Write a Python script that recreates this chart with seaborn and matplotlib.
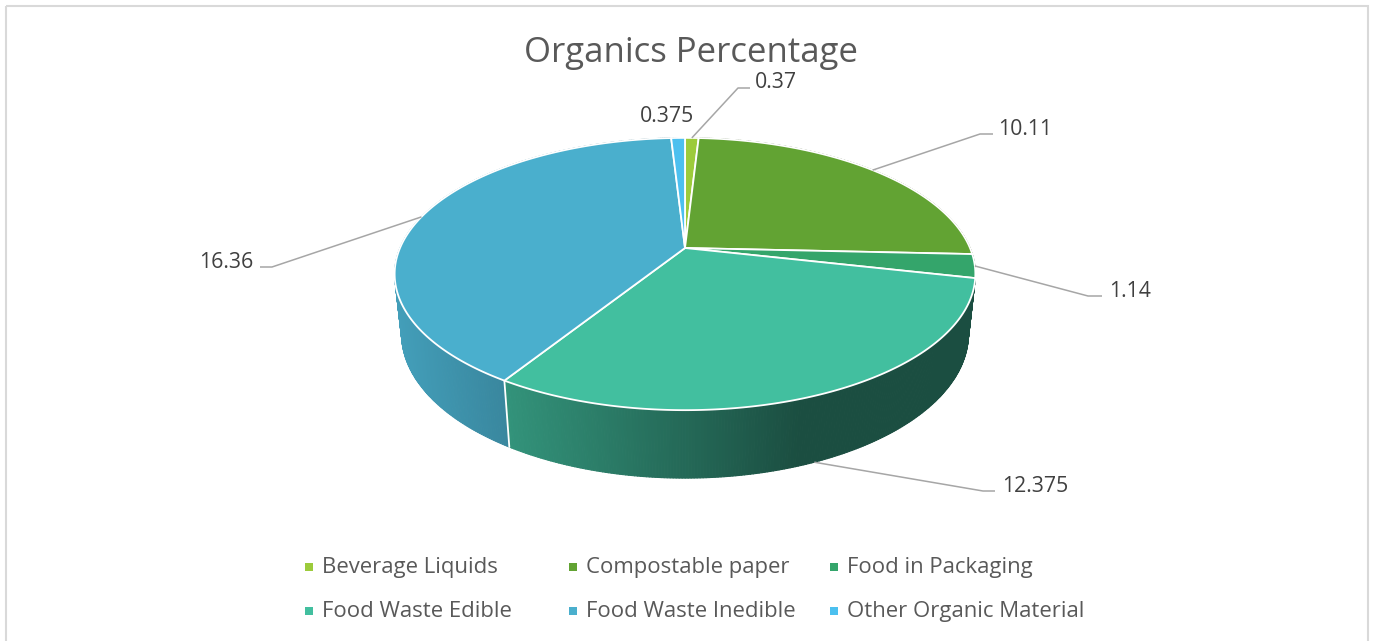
import numpy as np
import matplotlib
matplotlib.use("Agg")
import matplotlib.pyplot as plt
import seaborn as sns
from matplotlib.collections import PolyCollection
from matplotlib.patches import Polygon, Rectangle
from matplotlib.colors import to_rgb

# ---------------- data ----------------
categories = ["Beverage Liquids", "Compostable paper", "Food in Packaging",
              "Food Waste Edible", "Food Waste Inedible", "Other Organic Material"]
values = [0.37, 10.11, 1.14, 12.375, 16.36, 0.375]
title = "Organics Percentage"

# ---------------- style ----------------
colors = ["#9ccb3b", "#62a333", "#34a56b", "#42bf9f", "#4aafcd", "#4cc0ef"]
label_texts = [f"{v:g}" for v in values]

sns.set_theme(style="white")
plt.rcParams['font.family'] = ['Open Sans', 'DejaVu Sans']

W, H = 1376, 641
fig = plt.figure(figsize=(W / 100, H / 100), dpi=100)
ax = fig.add_axes([0, 0, 1, 1])
ax.set_xlim(0, W)
ax.set_ylim(H, 0)
ax.axis('off')

# chart border
ax.add_patch(Rectangle((5.5, 5.5), W - 14, H + 20, fill=False,
                       edgecolor='#d9d9d9', lw=1.5, zorder=0))

# 3-D perspective projection of the pie
CX, CY, R = 685, 248, 285
ELEV = np.radians(27.4)
DIST = 4.645
DEPTH = 0.2387
s_e, c_e = np.sin(ELEV), np.cos(ELEV)


def project(theta, y):
    X = np.sin(theta)
    Z = np.cos(theta)
    yc = y * c_e + Z * s_e
    zc = -y * s_e + Z * c_e
    k = DIST / (DIST + zc)
    return CX + R * X * k, CY - R * yc * k, zc


vals = np.array(values, dtype=float)
bounds = np.concatenate([[0], np.cumsum(vals) / vals.sum() * 2 * np.pi])


def shade(x):
    return float(np.clip(0.9 - (x - 400) * 0.00123, 0.41, 0.92))


# side walls
quads = []
for i in range(len(vals)):
    a0, a1 = bounds[i], bounds[i + 1]
    n = max(2, int(np.degrees(a1 - a0) * 2) + 1)
    th = np.linspace(a0, a1, n)
    xt, yt, zt = project(th, 0.0)
    xb, yb, zb = project(th, -DEPTH)
    base = np.array(to_rgb(colors[i]))
    for j in range(n - 1):
        verts = [(xt[j], yt[j]), (xt[j + 1], yt[j + 1]),
                 (xb[j + 1], yb[j + 1]), (xb[j], yb[j])]
        depth = (zt[j] + zt[j + 1] + zb[j] + zb[j + 1]) / 4
        xm = (xt[j] + xt[j + 1]) / 2
        col = tuple(base * shade(xm))
        quads.append((depth, verts, col))
quads.sort(key=lambda q: -q[0])
pc = PolyCollection([q[1] for q in quads], facecolors=[q[2] for q in quads],
                    edgecolors=[q[2] for q in quads], linewidths=0.8, zorder=2)
ax.add_collection(pc)

# white separators on visible wall
for b in bounds[:-1]:
    if np.cos(b) < -1 / (DIST * c_e):
        x0, y0, _ = project(b, 0.0)
        x1, y1, _ = project(b, -DEPTH)
        ax.plot([x0, x1], [y0, y1], color='white', lw=1.3, zorder=3)

# top face
for i in range(len(vals)):
    a0, a1 = bounds[i], bounds[i + 1]
    n = max(3, int(np.degrees(a1 - a0) * 2) + 1)
    th = np.linspace(a0, a1, n)
    xt, yt, _ = project(th, 0.0)
    pts = [(CX, CY)] + list(zip(xt, yt))
    ax.add_patch(Polygon(pts, closed=True, facecolor=colors[i], edgecolor='white',
                         lw=1.3, joinstyle='round', zorder=4))

# data labels with leader lines
label_pos = [(776, 88), (1025, 135), (1130, 297), (1035, 492), (226, 268), (667, 121.5)]
anchor_on = ["top", "top", "top", "bottom", "top", None]
elbows = [[(738, 88), (750, 88)], [(980, 134), (993, 134)],
          [(1088, 296), (1102, 296)], [(983, 491), (995, 491)],
          [(272, 267), (260, 267)], None]
for i in range(len(vals)):
    mid = (bounds[i] + bounds[i + 1]) / 2
    if anchor_on[i] is not None:
        yy = 0.0 if anchor_on[i] == "top" else -DEPTH
        ax0, ay0, _ = project(mid, yy)
        xs = [ax0] + [p[0] for p in elbows[i]]
        ys = [ay0] + [p[1] for p in elbows[i]]
        ax.plot(xs, ys, color='#a6a6a6', lw=1.1, zorder=5, solid_capstyle='butt')
    ax.text(label_pos[i][0], label_pos[i][1], label_texts[i], ha='center', va='baseline',
            fontsize=15.3, color='#404040', zorder=6)

# title
ax.text(691.5, 62, title, ha='center', va='baseline', fontsize=25, color='#595959')

# legend
leg_marker_x = [309, 572.5, 833.5]
leg_text_x = [322, 586, 847]
leg_marker_y = [566.5, 611]
leg_text_y = [573, 617]
for i, cat in enumerate(categories):
    col, row = i % 3, i // 3
    ax.scatter([leg_marker_x[col]], [leg_marker_y[row]], marker='s', s=36,
               color=colors[i], linewidths=0, zorder=6)
    ax.text(leg_text_x[col], leg_text_y[row], cat, ha='left', va='baseline',
            fontsize=15.9, color='#595959')

fig.savefig("out.png", dpi=100)
